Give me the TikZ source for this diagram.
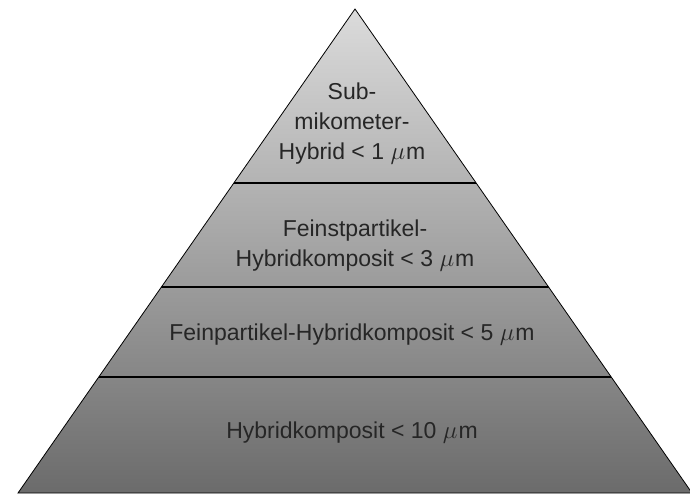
\documentclass[tikz,border=0pt]{standalone}
\usepackage{fontspec}
\setmainfont{Liberation Sans}

\begin{document}
\begin{tikzpicture}[x=1pt, y=1pt,
    every node/.style={text=black!85, align=center, font=\fontsize{23}{30}\selectfont},
    divider/.style={line width=2pt, black}]
        \useasboundingbox (0, 0) rectangle (690, 493);
        \coordinate (apex) at (355, 484);
        \coordinate (bl) at (18, 0);
        \coordinate (br) at (692, 0);
        \shade[top color=black!14, bottom color=black!58] (apex) -- (bl) -- (br) -- cycle;
        \begin{scope}
            \clip (apex) -- (bl) -- (br) -- cycle;
            \draw[divider] (0, 310) -- (690, 310);
            \draw[divider] (0, 206) -- (690, 206);
            \draw[divider] (0, 116) -- (690, 116);
        \end{scope}
        \draw[line width=0.8pt] (apex) -- (bl) -- (br) -- cycle;
        \node at (352, 369) (sub) {Sub-\\mikometer-\\Hybrid < 1 $\mu$\kern1pt m};
        \node at (355, 247) (feinst) {Feinstpartikel-\\Hybridkomposit < 3 $\mu$\kern1pt m};
        \node at (352, 158) (fein) {Feinpartikel-Hybridkomposit < 5 $\mu$\kern1pt m};
        \node at (352, 60) (hybrid) {Hybridkomposit < 10 $\mu$\kern1pt m};
\end{tikzpicture}
\end{document}
